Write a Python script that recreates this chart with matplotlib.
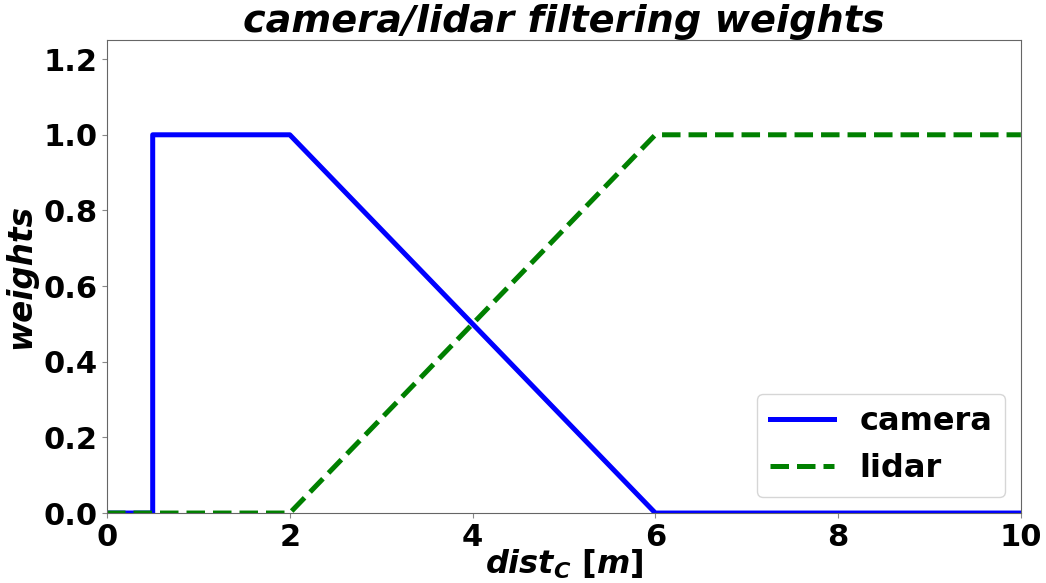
import matplotlib
matplotlib.use("Agg")
import matplotlib.pyplot as plt

# Piecewise-linear weight profiles over distance
camera_x = [0, 0.5, 0.5, 2, 6, 10]
camera_w = [0, 0, 1, 1, 0, 0]
lidar_x = [0, 2, 6, 10]
lidar_w = [0, 0, 1, 1]

plt.rcParams["font.weight"] = "bold"
plt.rcParams["mathtext.fontset"] = "custom"
plt.rcParams["mathtext.it"] = "DejaVu Sans:italic:bold"
plt.rcParams["mathtext.rm"] = "DejaVu Sans:bold"

fig = plt.figure(figsize=(10.46, 5.83), dpi=100)
ax = fig.add_axes([0.1023, 0.12, 0.8737, 0.811])

ax.plot(camera_x, camera_w, color="blue", lw=3.6, label="camera")
ax.plot(lidar_x, lidar_w, color="green", lw=3.6, ls="--", label="lidar")

ax.set_xlim(0, 10)
ax.set_ylim(0, 1.25)
ax.set_xticks([0, 2, 4, 6, 8, 10])
ax.set_yticks([0.0, 0.2, 0.4, 0.6, 0.8, 1.0, 1.2])
ax.tick_params(labelsize=22, color="#888888")
for lab in ax.get_xticklabels() + ax.get_yticklabels():
    lab.set_fontweight("bold")
for sp in ax.spines.values():
    sp.set_color("#666666")

ax.set_xlabel(r"$dist_C$ [$m$]", fontsize=23, fontweight="bold", labelpad=-3)
ax.set_ylabel("weights", fontsize=23.5, fontweight="bold", fontstyle="italic")
ax.set_title("camera/lidar filtering weights", fontsize=27.5, fontweight="bold",
             fontstyle="italic")
ax.legend(loc="lower right", prop={"size": 23, "weight": "bold"})

fig.savefig("out.png", dpi=100)
